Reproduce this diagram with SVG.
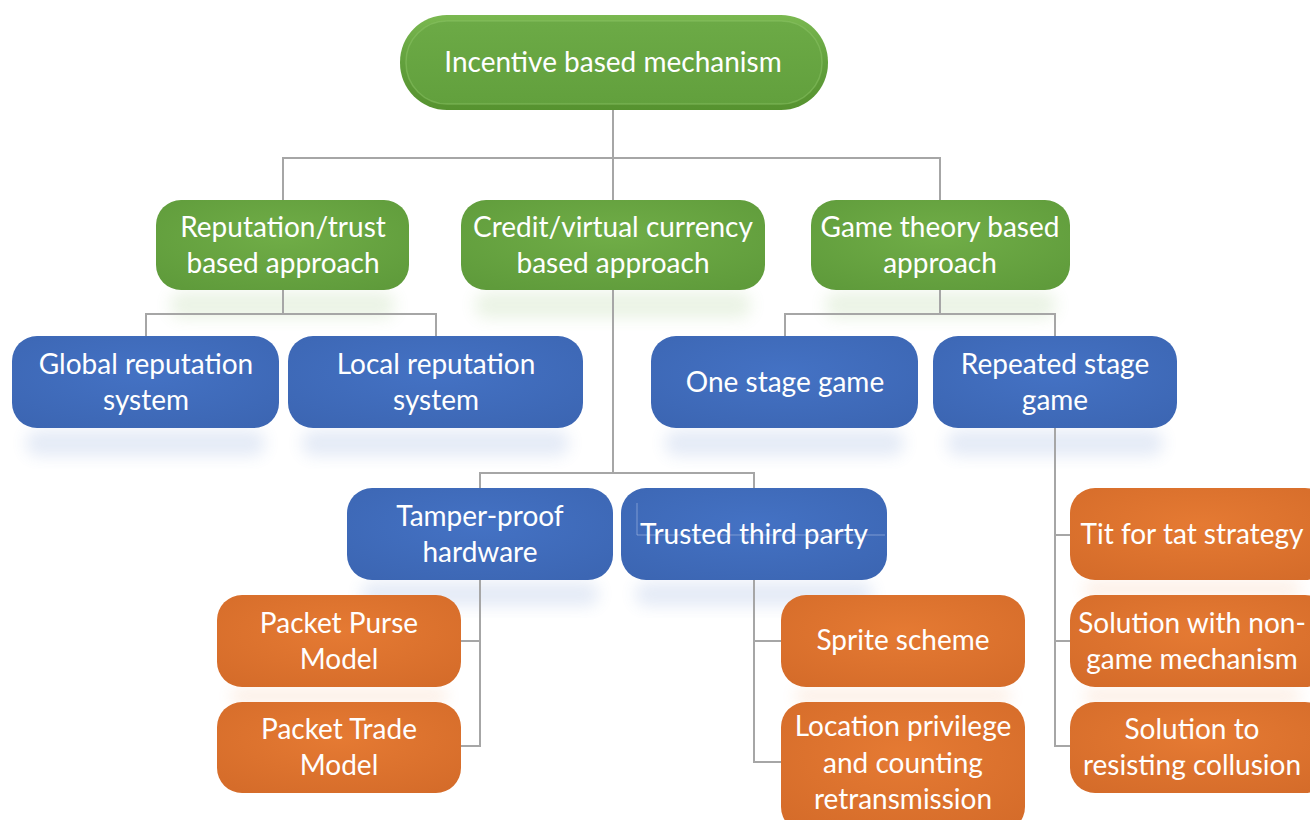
<svg xmlns="http://www.w3.org/2000/svg" width="1310" height="820" viewBox="0 0 1310 820">
<style>
  .t { font-family: Lato, "Open Sans", "Liberation Sans", sans-serif; font-size: 28px; fill: #ffffff; text-anchor: middle; }
  .conn { fill: none; stroke: #a6a6a6; stroke-width: 2; }
  .g { fill: url(#gGreen); }
  .b { fill: url(#gBlue); }
  .o { fill: url(#gOrange); }
  .refl { filter: url(#blur); opacity: 0.14; }
</style>
<defs>
  <radialGradient id="gGreen" cx="50%" cy="40%" r="70%">
    <stop offset="0" stop-color="#70ad47"/>
    <stop offset="1" stop-color="#5f9b3b"/>
  </radialGradient>
  <radialGradient id="gBlue" cx="50%" cy="40%" r="70%">
    <stop offset="0" stop-color="#4472c4"/>
    <stop offset="1" stop-color="#3c66b3"/>
  </radialGradient>
  <radialGradient id="gOrange" cx="50%" cy="40%" r="70%">
    <stop offset="0" stop-color="#e57a33"/>
    <stop offset="1" stop-color="#d56c2a"/>
  </radialGradient>
  <linearGradient id="gTopOuter" x1="0" y1="0" x2="0" y2="1">
    <stop offset="0" stop-color="#7ab850"/>
    <stop offset="0.5" stop-color="#62a03d"/>
    <stop offset="1" stop-color="#56922f"/>
  </linearGradient>
  <linearGradient id="gTopInner" x1="0" y1="0" x2="0" y2="1">
    <stop offset="0" stop-color="#6caa46"/>
    <stop offset="1" stop-color="#62a03d"/>
  </linearGradient>
  <filter id="blur" x="-20%" y="-50%" width="140%" height="200%">
    <feGaussianBlur stdDeviation="8"/>
  </filter>
</defs>

<g id="reflections">
  <rect class="refl" x="170" y="292" width="225" height="26" rx="12" fill="#70ad47"/>
  <rect class="refl" x="475" y="292" width="276" height="26" rx="12" fill="#70ad47"/>
  <rect class="refl" x="825" y="292" width="231" height="26" rx="12" fill="#70ad47"/>
  <rect class="refl" x="26" y="430" width="239" height="26" rx="12" fill="#4472c4"/>
  <rect class="refl" x="302" y="430" width="267" height="26" rx="12" fill="#4472c4"/>
  <rect class="refl" x="665" y="430" width="239" height="26" rx="12" fill="#4472c4"/>
  <rect class="refl" x="947" y="430" width="216" height="26" rx="12" fill="#4472c4"/>
  <rect class="refl" x="361" y="582" width="238" height="24" rx="12" fill="#4472c4"/>
  <rect class="refl" x="635" y="582" width="238" height="24" rx="12" fill="#4472c4"/>
  <rect class="refl" x="231" y="689" width="216" height="14" rx="7" fill="#ed7d31"/>
  <rect class="refl" x="795" y="689" width="216" height="14" rx="7" fill="#ed7d31"/>
  <rect class="refl" x="1084" y="582" width="216" height="14" rx="7" fill="#ed7d31"/>
  <rect class="refl" x="1084" y="689" width="216" height="14" rx="7" fill="#ed7d31"/>
</g>

<g id="connectors">
  <path class="conn" d="M613 110 V200 M283 200 V158 H940 V200"/>
  <path class="conn" d="M283 290 V314 M146 337 V314 H436 V337"/>
  <path class="conn" d="M613 290 V473 M480 488 V473 H754 V488"/>
  <path class="conn" d="M940 290 V314 M785 337 V314 H1055 V337"/>
  <path class="conn" d="M1055 428 V746 H1070 M1055 535 H1070 M1055 641 H1070"/>
  <path class="conn" d="M480 580 V746 H461 M480 641 H461"/>
  <path class="conn" d="M754 580 V762 H781 M754 641 H781"/>
</g>

<g id="n-root">
  <rect x="400" y="15" width="428" height="95" rx="47" fill="url(#gTopOuter)"/>
  <rect x="406" y="21" width="416" height="83" rx="41" fill="url(#gTopInner)" stroke="#8cc466" stroke-opacity="0.5" stroke-width="1.5"/>
  <text class="t" x="613" y="72">Incentive based mechanism</text>
</g>

<g id="n-reputation">
  <rect class="g" x="156" y="200" width="253" height="90" rx="25"/>
  <text class="t" x="283" y="237">Reputation/trust</text>
  <text class="t" x="283" y="273">based approach</text>
</g>
<g id="n-credit">
  <rect class="g" x="461" y="200" width="304" height="90" rx="25"/>
  <text class="t" x="613" y="237">Credit/virtual currency</text>
  <text class="t" x="613" y="273">based approach</text>
</g>
<g id="n-game">
  <rect class="g" x="811" y="200" width="259" height="90" rx="25"/>
  <text class="t" x="940" y="237">Game theory based</text>
  <text class="t" x="940" y="273">approach</text>
</g>

<g id="n-global">
  <rect class="b" x="12" y="336" width="267" height="92" rx="25"/>
  <text class="t" x="146" y="374">Global reputation</text>
  <text class="t" x="146" y="410">system</text>
</g>
<g id="n-local">
  <rect class="b" x="288" y="336" width="295" height="92" rx="25"/>
  <text class="t" x="436" y="374">Local reputation</text>
  <text class="t" x="436" y="410">system</text>
</g>
<g id="n-onestage">
  <rect class="b" x="651" y="336" width="267" height="92" rx="25"/>
  <text class="t" x="785" y="392">One stage game</text>
</g>
<g id="n-repeated">
  <rect class="b" x="933" y="336" width="244" height="92" rx="25"/>
  <text class="t" x="1055" y="374">Repeated stage</text>
  <text class="t" x="1055" y="410">game</text>
</g>

<g id="n-tamper">
  <rect class="b" x="347" y="488" width="266" height="92" rx="25"/>
  <text class="t" x="480" y="526">Tamper-proof</text>
  <text class="t" x="480" y="562">hardware</text>
</g>
<g id="n-trusted">
  <rect class="b" x="621" y="488" width="266" height="92" rx="25"/>
  <path d="M637 503 V535 H885" fill="none" stroke="#a9bde3" stroke-opacity="0.6" stroke-width="1"/>
  <text class="t" x="754" y="544">Trusted third party</text>
</g>

<g id="n-purse">
  <rect class="o" x="217" y="595" width="244" height="92" rx="25"/>
  <text class="t" x="339" y="633">Packet Purse</text>
  <text class="t" x="339" y="669">Model</text>
</g>
<g id="n-trade">
  <rect class="o" x="217" y="702" width="244" height="91" rx="25"/>
  <text class="t" x="339" y="739">Packet Trade</text>
  <text class="t" x="339" y="775">Model</text>
</g>

<g id="n-sprite">
  <rect class="o" x="781" y="595" width="244" height="92" rx="25"/>
  <text class="t" x="903" y="650">Sprite scheme</text>
</g>
<g id="n-location">
  <rect class="o" x="781" y="702" width="244" height="130" rx="25"/>
  <text class="t" x="903" y="736">Location privilege</text>
  <text class="t" x="903" y="773">and counting</text>
  <text class="t" x="903" y="809">retransmission</text>
</g>

<g id="n-titfortat">
  <rect class="o" x="1070" y="488" width="260" height="92" rx="25"/>
  <text class="t" x="1192" y="544">Tit for tat strategy</text>
</g>
<g id="n-nongame">
  <rect class="o" x="1070" y="595" width="260" height="92" rx="25"/>
  <text class="t" x="1192" y="633">Solution with non-</text>
  <text class="t" x="1192" y="669">game mechanism</text>
</g>
<g id="n-collusion">
  <rect class="o" x="1070" y="702" width="260" height="91" rx="25"/>
  <text class="t" x="1192" y="739">Solution to</text>
  <text class="t" x="1192" y="775">resisting collusion</text>
</g>
</svg>
